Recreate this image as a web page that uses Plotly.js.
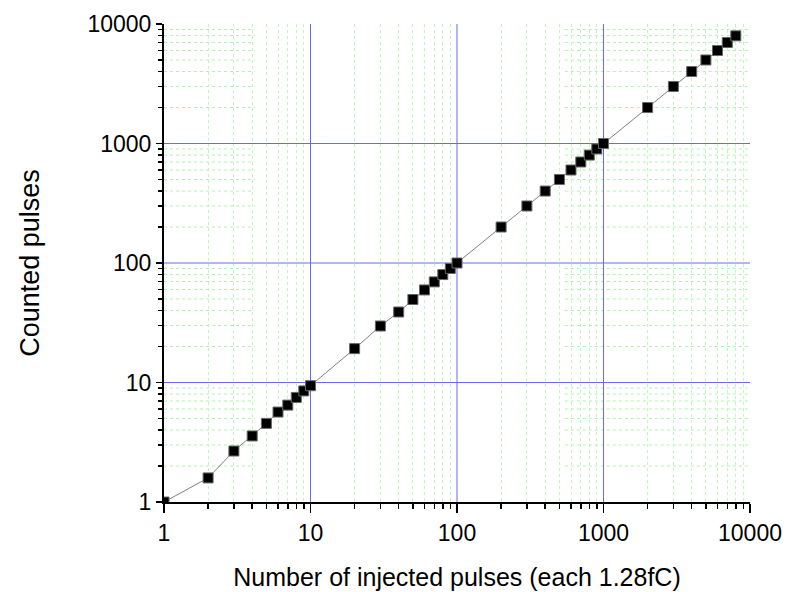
<!DOCTYPE html>
<html>
<head>
<meta charset="utf-8">
<script src="https://cdn.plot.ly/plotly-3.0.1.min.js"></script>
<style>html,body{margin:0;padding:0;background:#fff;}#chart{width:788px;height:592px;}</style>
</head>
<body>
<div id="chart"></div>
<script>
var injected = [1,2,3,4,5,6,7,8,9,10,20,30,40,50,60,70,80,90,100,200,300,400,500,600,700,800,900,1000,2000,3000,4000,5000,6000,7000,8000];
var counted  = [1,1.59,2.67,3.57,4.55,5.66,6.47,7.5,8.5,9.4,19.2,29.7,38.9,49.5,59.5,69.5,80,90,100,200,300,400,500,600,700,800,900,1000,2000,3000,4000,5000,6000,7000,7960];
var majorTicks = [1,10,100,1000,10000];
var majorLabels = ["1","10","100","1000","10000"];

var minorVals = [];
for (var k = 0; k < 4; k++) for (var m = 2; m <= 9; m++) minorVals.push(m * Math.pow(10, k));

var shapes = [];
// partial horizontal minor grid segments
minorVals.forEach(function (v) {
  var yp = Math.log10(v) / 4;
  [[0, 0.155], [0.684, 1]].forEach(function (seg) {
    shapes.push({type: 'line', xref: 'paper', yref: 'paper', x0: seg[0], x1: seg[1], y0: yp, y1: yp,
      line: {color: '#b0f2b0', width: 1, dash: 'dot'}, layer: 'below'});
  });
});
// major grid
[10, 100, 1000].forEach(function (v) {
  var p = Math.log10(v) / 4;
  shapes.push({type: 'line', xref: 'paper', yref: 'paper', x0: p, x1: p, y0: 0, y1: 1,
    line: {color: 'rgb(105,105,240)', width: 1}, layer: 'below'});
  shapes.push({type: 'line', xref: 'paper', yref: 'paper', x0: 0, x1: 1, y0: p, y1: p,
    line: {color: 'rgb(105,105,240)', width: 1}, layer: 'below'});
});

var trace = {
  x: injected, y: counted, type: 'scatter', mode: 'lines+markers',
  line: {color: '#808080', width: 1},
  marker: {symbol: 'square', size: 10, color: '#000', line: {color: '#666', width: 1}},
  hoverinfo: 'x+y'
};

var fontF = 'Liberation Sans, Arial, sans-serif';
var layout = {
  width: 788, height: 592,
  margin: {l: 164, r: 38, t: 24, b: 90},
  paper_bgcolor: '#fff', plot_bgcolor: '#fff',
  showlegend: false,
  font: {family: fontF, size: 23, color: '#000'},
  xaxis: {
    type: 'log', range: [0, 4],
    tickmode: 'array', tickvals: majorTicks, ticktext: majorLabels,
    ticks: 'outside', ticklen: 9, tickwidth: 1.5, tickcolor: '#000',
    showgrid: false, zeroline: false,
    showline: true, linecolor: '#000', linewidth: 2,
    tickfont: {size: 23, family: fontF},
    minor: {tickmode: 'array', tickvals: minorVals, ticks: 'outside', ticklen: 5, tickwidth: 1.5, tickcolor: '#000',
      showgrid: true, gridcolor: '#c2f4c2', griddash: 'dot', gridwidth: 1},
    title: {text: 'Number of injected pulses (each 1.28fC)', font: {size: 25, family: fontF}, standoff: 24}
  },
  yaxis: {
    type: 'log', range: [0, 4],
    tickmode: 'array', tickvals: majorTicks, ticktext: majorLabels,
    ticks: 'outside', ticklen: 6, tickwidth: 1.5, tickcolor: '#000',
    showgrid: false, zeroline: false,
    showline: true, linecolor: '#000', linewidth: 2,
    tickfont: {size: 23, family: fontF},
    minor: {tickmode: 'array', tickvals: minorVals, ticks: 'outside', ticklen: 4, tickwidth: 1.5, tickcolor: '#000', showgrid: false},
    title: {text: 'Counted pulses', font: {size: 27, family: fontF}, standoff: 40}
  },
  shapes: shapes
};

Plotly.newPlot('chart', [trace], layout, {displayModeBar: false, staticPlot: true});
</script>
</body>
</html>
